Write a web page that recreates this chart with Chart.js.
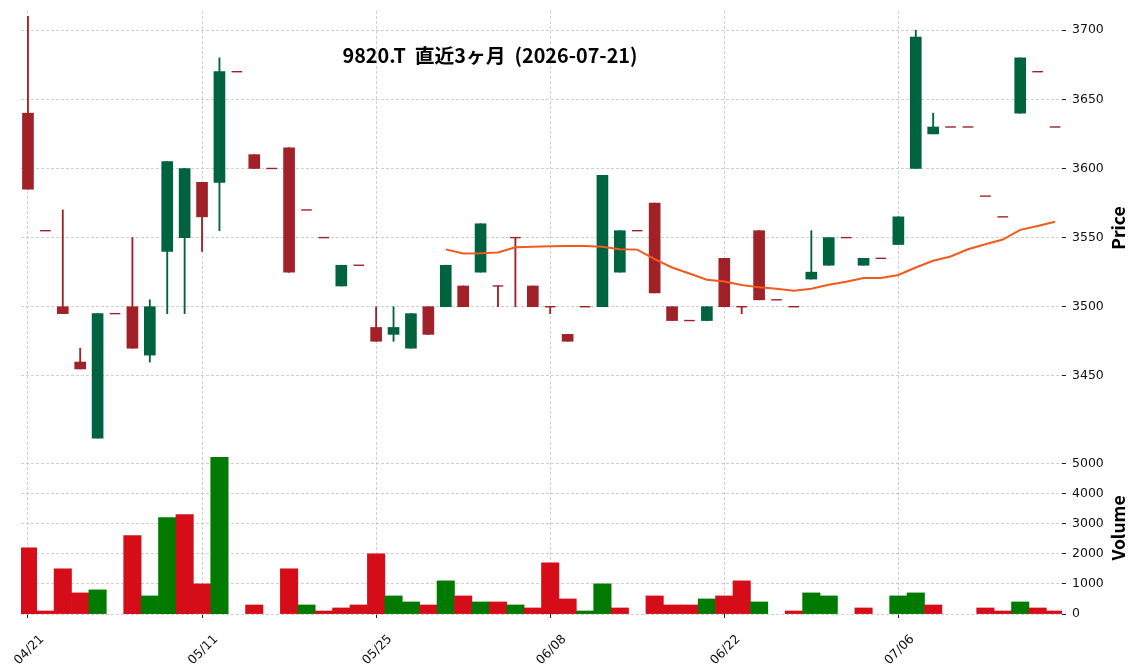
<!DOCTYPE html>
<html>
<head>
<meta charset="utf-8">
<script src="https://cdn.jsdelivr.net/npm/chart.js@4.4.1/dist/chart.umd.min.js"></script>
<style>
  html, body { margin: 0; padding: 0; background: #fff; }
  #wrap { position: relative; width: 1136px; height: 670px; overflow: hidden; }
  canvas { position: absolute; left: 0; }
  #price-canvas { top: 0; }
  #volume-canvas { top: 441px; }
  .title {
    position: absolute; left: 240px; width: 500px; top: 44px; height: 22px; line-height: 22px;
    text-align: center; font-family: "Noto Sans CJK JP", sans-serif; font-weight: bold; font-size: 19.8px; color: #000;
  }
  .ylabel {
    position: absolute; transform: translate(-50%, -50%) rotate(-90deg); white-space: nowrap;
    font-family: "Noto Sans CJK JP", sans-serif; font-weight: bold; font-size: 17.5px; color: #000;
  }
</style>
</head>
<body>
<div id="wrap">
  <canvas id="price-canvas" width="1136" height="441"></canvas>
  <canvas id="volume-canvas" width="1136" height="229"></canvas>
  <div class="title">9820.T&nbsp; 直近3ヶ月&nbsp; (2026-07-21)</div>
  <div class="ylabel" style="left:1117px; top:228px;">Price</div>
  <div class="ylabel" style="left:1117px; top:528px;">Volume</div>
</div>
<script>
// trading days (index -> label)
const dates = [
  '04/21','04/22','04/23','04/24','04/27','04/28','04/30','05/01','05/07','05/08',
  '05/11','05/12','05/13','05/14','05/15','05/18','05/19','05/20','05/21','05/22',
  '05/25','05/26','05/27','05/28','05/29','06/01','06/02','06/03','06/04','06/05',
  '06/08','06/09','06/10','06/11','06/12','06/15','06/16','06/17','06/18','06/19',
  '06/22','06/23','06/24','06/25','06/26','06/29','06/30','07/01','07/02','07/03',
  '07/06','07/07','07/08','07/09','07/10','07/13','07/14','07/15','07/16','07/17'
];

const opens = [
  3640,3555,3500,3460,3405,3495,3500,3465,3540,3550,
  3590,3590,3670,3610,3600,3615,3570,3550,3515,3530,
  3485,3480,3470,3500,3500,3515,3525,3515,3550,3515,
  3500,3480,3500,3500,3525,3555,3575,3500,3490,3490,
  3535,3500,3555,3505,3500,3520,3530,3550,3530,3535,
  3545,3600,3625,3630,3630,3580,3565,3640,3670,3630
];
const highs = [
  3710,3555,3570,3470,3495,3495,3550,3505,3605,3600,
  3590,3680,3670,3610,3600,3615,3570,3550,3530,3530,
  3500,3500,3495,3500,3530,3515,3560,3515,3550,3515,
  3500,3480,3500,3595,3555,3555,3575,3500,3490,3500,
  3535,3500,3555,3505,3500,3555,3550,3550,3535,3535,
  3565,3700,3640,3630,3630,3580,3565,3680,3670,3630
];
const lows = [
  3585,3555,3495,3455,3405,3495,3470,3460,3495,3495,
  3540,3555,3670,3600,3600,3525,3570,3550,3515,3530,
  3475,3475,3470,3480,3500,3500,3525,3500,3500,3500,
  3495,3475,3500,3500,3525,3555,3510,3490,3490,3490,
  3500,3495,3505,3505,3500,3520,3530,3550,3530,3535,
  3545,3600,3625,3630,3630,3580,3565,3640,3670,3630
];
const closes = [
  3585,3555,3495,3455,3495,3495,3470,3500,3605,3600,
  3565,3670,3670,3600,3600,3525,3570,3550,3530,3530,
  3475,3485,3495,3480,3530,3500,3560,3515,3550,3500,
  3500,3475,3500,3595,3555,3555,3510,3490,3490,3500,
  3500,3500,3505,3505,3500,3525,3550,3550,3535,3535,
  3565,3695,3630,3630,3630,3580,3565,3680,3670,3630
];
const volumes = [
  2200,100,1500,700,800,0,2600,600,3200,3300,
  1000,5200,0,300,0,1500,300,100,200,300,
  2000,600,400,300,1100,600,400,400,300,200,
  1700,500,100,1000,200,0,600,300,300,500,
  600,1100,400,0,100,700,600,0,200,0,
  600,700,300,0,0,200,100,400,200,100
];
// 25-day moving average
const ma25 = [
  null,null,null,null,null,null,null,null,null,null,
  null,null,null,null,null,null,null,null,null,null,
  null,null,null,null,3541.5,3538.5,3538.6,3539.2,3543.0,3543.3,
  3543.8,3544.0,3544.0,3543.3,3541.6,3541.3,3534.4,3528.4,3524.0,3519.5,
  3518.3,3515.7,3514.0,3513.0,3511.6,3513.0,3515.9,3518.0,3520.7,3520.7,
  3523.0,3528.4,3533.2,3536.3,3541.6,3545.2,3548.6,3555.6,3558.4,3561.5
];

const priceTicks = [3450, 3500, 3550, 3600, 3650, 3700];
const volumeTicks = [0, 1000, 2000, 3000, 4000, 5000];
const dateTickIdx = [0, 10, 20, 30, 40, 50];

const UP = '#006340', DOWN = '#A02128';
const VOL_UP = '#007a00', VOL_DOWN = '#d50d18';
const GRID = '#c4c4c4';
const TICK_FONT = { family: 'DejaVu Sans', size: 12.5 };

const candleColors = closes.map((c, i) => (c > opens[i] ? UP : DOWN));
const volColors = closes.map((c, i) => (i > 0 && c > closes[i - 1] ? VOL_UP : VOL_DOWN));

// keep the chart area exactly where the layout padding puts it
function noPad(s) {
  s.paddingTop = 0;
  s.paddingBottom = 0;
  s.paddingLeft = 0;
  s.paddingRight = 0;
}

function xScale(showLabels) {
  return {
    type: 'linear',
    min: -0.4,
    max: 59.4,
    offset: false,
    afterBuildTicks: (s) => { s.ticks = dateTickIdx.map((v) => ({ value: v })); },
    afterFit: (s) => { s.height = showLabels ? 56 : 0; noPad(s); },
    grid: {
      color: GRID, lineWidth: 0.8, offset: false,
      drawTicks: showLabels, tickLength: 4, tickColor: '#222', tickWidth: 1
    },
    border: { display: false, dash: [3, 2] },
    ticks: {
      display: showLabels,
      autoSkip: false,
      minRotation: 45,
      maxRotation: 45,
      padding: 14,
      labelOffset: 14,
      color: '#111',
      font: TICK_FONT,
      callback: (v) => dates[v] || ''
    }
  };
}

function yScale(min, max, tickValues) {
  return {
    position: 'right',
    min,
    max,
    afterBuildTicks: (s) => { s.ticks = tickValues.map((v) => ({ value: v })); },
    afterFit: (s) => { s.width = 74; noPad(s); },
    grid: { color: GRID, lineWidth: 0.8, drawTicks: true, tickLength: 4, tickColor: '#222', tickWidth: 1 },
    border: { display: false, dash: [3, 2] },
    ticks: { color: '#111', font: TICK_FONT, padding: 6, callback: (v) => String(v) }
  };
}

const idx = dates.map((_, i) => i);

// price panel: wicks + bodies as floating bars, flat days as short dashes
new Chart(document.getElementById('price-canvas'), {
  type: 'bar',
  data: {
    datasets: [
      {
        type: 'line',
        label: 'MA25',
        data: idx.map((i) => ({ x: i, y: ma25[i] })),
        borderColor: '#f25a1b',
        borderWidth: 2,
        pointRadius: 0,
        tension: 0,
        spanGaps: false,
        order: 0
      },
      {
        label: 'wick',
        data: idx.filter((i) => highs[i] > lows[i]).map((i) => ({ x: i, y: [lows[i], highs[i]] })),
        backgroundColor: idx.filter((i) => highs[i] > lows[i]).map((i) => candleColors[i]),
        barThickness: 1.2,
        grouped: false,
        order: 3
      },
      {
        label: 'body',
        data: idx.filter((i) => opens[i] !== closes[i]).map((i) => ({ x: i, y: [opens[i], closes[i]] })),
        backgroundColor: idx.filter((i) => opens[i] !== closes[i]).map((i) => candleColors[i]),
        barThickness: 11,
        grouped: false,
        order: 2
      },
      {
        type: 'line',
        label: 'flat',
        data: idx.filter((i) => opens[i] === closes[i]).map((i) => ({ x: i, y: closes[i] })),
        showLine: false,
        pointStyle: 'line',
        pointRadius: 5.3,
        pointBorderWidth: 1.4,
        pointBorderColor: DOWN,
        pointBackgroundColor: DOWN,
        order: 1
      }
    ]
  },
  options: {
    responsive: false,
    animation: false,
    devicePixelRatio: 1,
    layout: { autoPadding: false, padding: { top: 11, left: 21, right: 0, bottom: 1 } },
    plugins: { legend: { display: false }, tooltip: { enabled: false } },
    scales: {
      x: xScale(false),
      y: yScale(3403.6, 3713.9, priceTicks)
    }
  }
});

// volume panel
new Chart(document.getElementById('volume-canvas'), {
  type: 'bar',
  data: {
    datasets: [
      {
        label: 'Volume',
        data: idx.filter((i) => volumes[i] > 0).map((i) => ({ x: i, y: volumes[i] })),
        backgroundColor: idx.filter((i) => volumes[i] > 0).map((i) => volColors[i]),
        barThickness: 17.4,
        grouped: false
      }
    ]
  },
  options: {
    responsive: false,
    animation: false,
    devicePixelRatio: 1,
    layout: { autoPadding: false, padding: { top: 1, left: 21, right: 0, bottom: 0 } },
    plugins: { legend: { display: false }, tooltip: { enabled: false } },
    scales: {
      x: xScale(true),
      y: yScale(0, 5710, volumeTicks)
    }
  }
});
</script>
</body>
</html>
